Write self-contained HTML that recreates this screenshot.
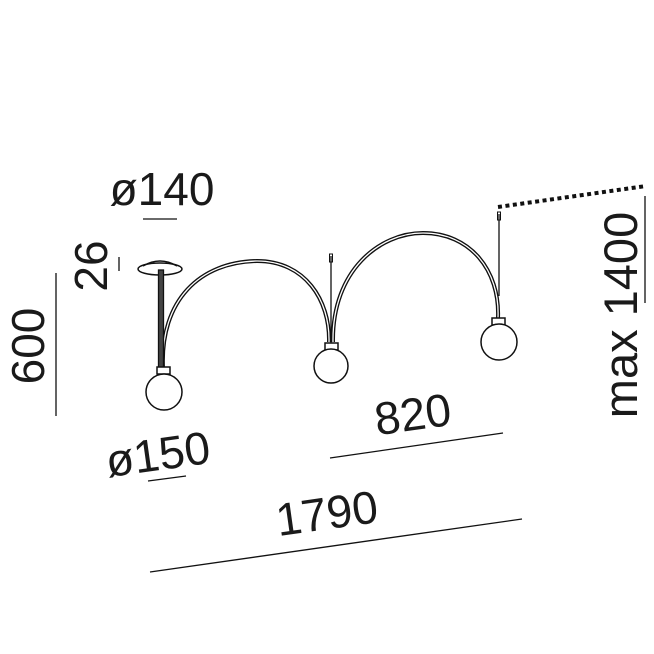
<!DOCTYPE html>
<html><head><style>
html,body{margin:0;padding:0;background:#fff;}
svg{display:block;}
text{font-family:"Liberation Sans",sans-serif;font-size:46px;fill:#1a1a1a;}
</style></head><body>
<svg width="654" height="654" viewBox="0 0 654 654" xmlns="http://www.w3.org/2000/svg">
<g fill="none" stroke="#111">
  <path d="M163,368 C160,300 200,262 257,261 C305,261 330,300 329,342" stroke-width="4"/>
  <path d="M163,368 C160,300 200,262 257,261 C305,261 330,300 329,342" stroke="#fff" stroke-width="1.3"/>
  <path d="M333,342 C332,270 380,233 423,233 C470,233 500,270 498,318" stroke-width="4"/>
  <path d="M333,342 C332,270 380,233 423,233 C470,233 500,270 498,318" stroke="#fff" stroke-width="1.3"/>
  <ellipse cx="160" cy="269" rx="22" ry="6" stroke-width="1.5" fill="#fff"/>
  <path d="M143,266 Q160,256 177,266" stroke-width="1.5"/>
  <rect x="158.5" y="270" width="5" height="98" fill="#444" stroke-width="1.3"/>
  <rect x="157" y="367" width="13" height="7" fill="#fff" stroke-width="1.5"/>
  <circle cx="164" cy="392" r="18" fill="#fff" stroke-width="1.5"/>
  <line x1="331" y1="256" x2="331" y2="343" stroke-width="1.3"/>
  <rect x="329.5" y="254" width="3" height="8" stroke-width="1"/>
  <rect x="325" y="343" width="13" height="7" fill="#fff" stroke-width="1.5"/>
  <circle cx="331" cy="366" r="17" fill="#fff" stroke-width="1.5"/>
  <line x1="499" y1="214" x2="499" y2="296" stroke-width="1.3"/>
  <rect x="497.5" y="212" width="3" height="8" stroke-width="1"/>
  <rect x="492" y="318" width="13" height="7" fill="#fff" stroke-width="1.5"/>
  <circle cx="499" cy="342" r="18" fill="#fff" stroke-width="1.5"/>
  <line x1="498" y1="207" x2="646" y2="186" stroke-width="4" stroke-dasharray="4,3.5"/>
  <line x1="143" y1="219" x2="177" y2="219" stroke-width="1.3"/>
  <line x1="119" y1="257" x2="119" y2="271" stroke-width="1.3"/>
  <line x1="56" y1="273" x2="56" y2="416" stroke-width="1.3"/>
  <line x1="148" y1="481" x2="186" y2="476" stroke-width="1.3"/>
  <line x1="330" y1="458" x2="503" y2="433" stroke-width="1.3"/>
  <line x1="150" y1="572" x2="522" y2="519" stroke-width="1.3"/>
  <line x1="645" y1="196" x2="645" y2="303" stroke-width="1.3"/>
</g>
<text x="162" y="205" text-anchor="middle">ø140</text>
<text transform="translate(107,266) rotate(-90)" text-anchor="middle">26</text>
<text transform="translate(44,346) rotate(-90)" text-anchor="middle">600</text>
<text transform="translate(637,315) rotate(-90)" text-anchor="middle" style="font-size:47px">max 1400</text>
<text transform="translate(160,470) rotate(-8)" text-anchor="middle">ø150</text>
<text transform="translate(415,430) rotate(-8)" text-anchor="middle">820</text>
<text transform="translate(329,529) rotate(-8)" text-anchor="middle">1790</text>
</svg>
</body></html>
